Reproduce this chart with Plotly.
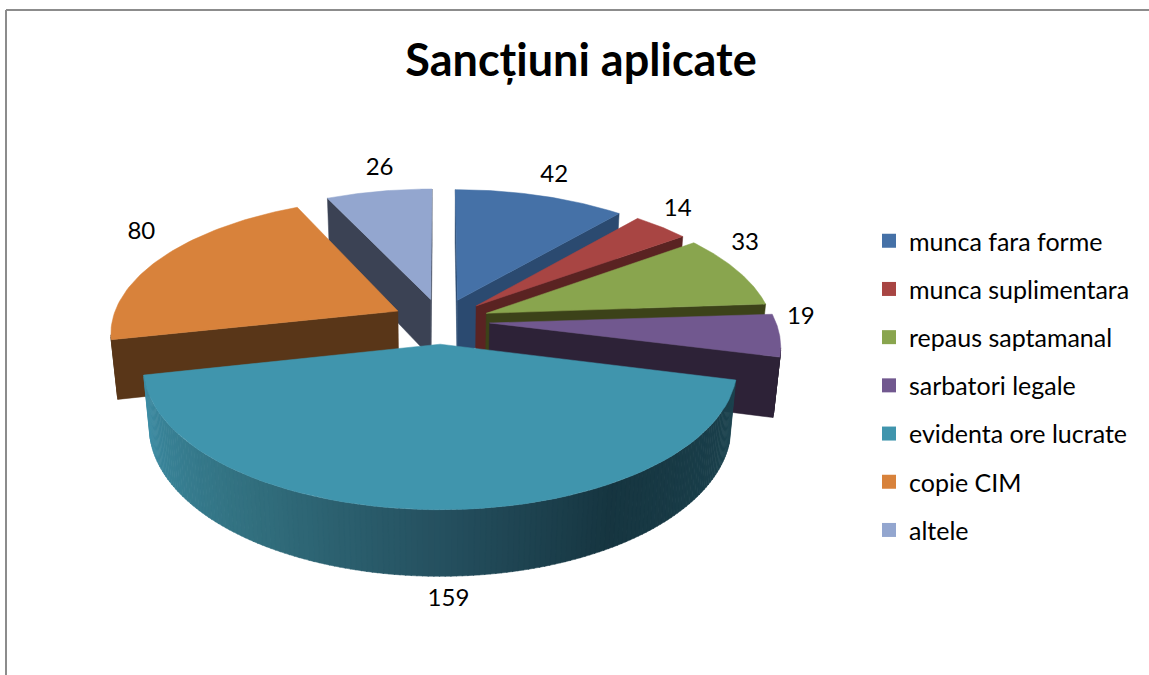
import math
import plotly.graph_objects as go

categories = ["munca fara forme", "munca suplimentara", "repaus saptamanal",
              "sarbatori legale", "evidenta ore lucrate", "copie CIM", "altele"]
values = [42, 14, 33, 19, 159, 80, 26]
top_colors = ["#4571a7", "#a84543", "#89a54e", "#71588f", "#4095ad", "#d8823b", "#93a6cf"]
wall_colors = ["#2b4a70", "#5a2322", "#3c4219", "#2d2237", "#1c4450", "#593618", "#3b4254"]
title_text = "Sancțiuni aplicate"

# look of the 3-D projection
PULL = 0.17
CX, CY = 441.0, 321.0
A, B, C = 286.0, 133.0, 60.0
P_Y, P_Z = 0.15, 0.02
label_nudges = [(5, -9), (-3, -8), (-21, -22), (-14, -18), (15, -1), (5, -18), (6, -11)]
TEXT_FONT = "Lato"


def project(X, Y, z):
    w = 1 + P_Y * Y + P_Z * z
    return CX + A * X / w, CY - B * Y / w + C * z / w


def lerp_hex(c1, c2, t):
    a = [int(c1[i:i + 2], 16) for i in (1, 3, 5)]
    b = [int(c2[i:i + 2], 16) for i in (1, 3, 5)]
    return "#%02x%02x%02x" % tuple(round(a[i] + (b[i] - a[i]) * t) for i in range(3))


# gradient stops of the big slice's rim: (angle, colour)
RIM_STOPS = [(104, "#1c4450"), (150, "#163540"), (180, "#25505f"), (215, "#32707f"), (258, "#3d8da5")]


def rim_color(deg):
    for (a0, c0), (a1, c1) in zip(RIM_STOPS, RIM_STOPS[1:]):
        if deg <= a1:
            return lerp_hex(c0, c1, max(0, (deg - a0) / (a1 - a0)))
    return RIM_STOPS[-1][1]


def poly(fig, pts, color):
    fig.add_trace(go.Scatter(
        x=[p[0] for p in pts] + [pts[0][0]], y=[p[1] for p in pts] + [pts[0][1]],
        mode="lines", fill="toself", fillcolor=color,
        line=dict(color=color, width=0.5), hoverinfo="skip", showlegend=False))


total = sum(values)
slices = []
cum = 0.0
for v in values:
    a0 = cum / total * 2 * math.pi
    cum += v
    a1 = cum / total * 2 * math.pi
    mid = (a0 + a1) / 2
    slices.append((a0, a1, mid, PULL * math.sin(mid), PULL * math.cos(mid)))

fig = go.Figure()
cam_y = -1 / P_Y

for i in [6, 0, 1, 2, 3, 5, 4]:
    a0, a1, mid, ox, oy = slices[i]
    # radial cut faces
    for ang, sign in ((a0, -1), (a1, 1)):
        nx, ny = sign * math.cos(ang), -sign * math.sin(ang)
        if (ox) * nx + (oy - cam_y) * ny < 0:
            ex, ey = ox + math.sin(ang), oy + math.cos(ang)
            poly(fig, [project(ox, oy, 0), project(ex, ey, 0),
                       project(ex, ey, 1), project(ox, oy, 1)], wall_colors[i])
    # outer rim, strip by strip
    n = max(4, int((a1 - a0) * 60))
    for k in range(n):
        t0 = a0 + (a1 - a0) * k / n
        t1 = a0 + (a1 - a0) * (k + 1.15) / n
        t1 = min(t1, a1)
        tm = (t0 + t1) / 2
        px, py = ox + math.sin(tm), oy + math.cos(tm)
        if px * math.sin(tm) + (py - cam_y) * math.cos(tm) < 0:
            col = rim_color(math.degrees(tm)) if i == 4 else wall_colors[i]
            p0 = (ox + math.sin(t0), oy + math.cos(t0))
            p1 = (ox + math.sin(t1), oy + math.cos(t1))
            poly(fig, [project(*p0, 0), project(*p1, 0), project(*p1, 1), project(*p0, 1)], col)
    # top face
    arc = [a0 + (a1 - a0) * k / 60 for k in range(61)]
    poly(fig, [project(ox, oy, 0)] +
         [project(ox + math.sin(t), oy + math.cos(t), 0) for t in arc], top_colors[i])

# value labels
lx, ly = [], []
for i, s in enumerate(slices):
    x, y = project(s[3] + 1.12 * math.sin(s[2]), s[4] + 1.12 * math.cos(s[2]), 0 if math.cos(s[2]) > -0.3 else 1)
    lx.append(x + label_nudges[i][0])
    ly.append(y + label_nudges[i][1])
fig.add_trace(go.Scatter(x=lx, y=ly, mode="text", text=[str(v) for v in values],
                         textposition="middle center",
                         textfont=dict(family=TEXT_FONT, size=24, color="#000000"),
                         hoverinfo="skip", showlegend=False))

# legend entries
for name, col in zip(categories, top_colors):
    fig.add_trace(go.Scatter(x=[None], y=[None], mode="markers", name=name, legendgroup=name,
                             marker=dict(symbol="square", size=14, color=col)))

fig.update_layout(
    width=1149, height=675, margin=dict(l=0, r=0, t=0, b=0),
    paper_bgcolor="white", plot_bgcolor="white",
    xaxis=dict(range=[0, 1149], visible=False, fixedrange=True),
    yaxis=dict(range=[675, 0], visible=False, fixedrange=True),
    title=dict(text="<b>%s</b>" % title_text, x=581 / 1149, xanchor="center", y=1 - 60 / 675,
               yanchor="middle", font=dict(family=TEXT_FONT, size=45, color="#000000")),
    legend=dict(x=869 / 1149, xanchor="left", y=1 - 218 / 675, yanchor="top",
                font=dict(family=TEXT_FONT, size=25, color="#000000"),
                tracegroupgap=12.7, itemwidth=30, bgcolor="rgba(0,0,0,0)"),
    shapes=[
        dict(type="line", x0=6, x1=6, y0=10, y1=675, line=dict(color="#8c8c8c", width=2)),
        dict(type="line", x0=6, x1=1149, y0=10, y1=10, line=dict(color="#8c8c8c", width=2)),
    ],
)

fig.write_html("out.html", config={"displayModeBar": False},
               post_script="document.body.style.margin='0';")
